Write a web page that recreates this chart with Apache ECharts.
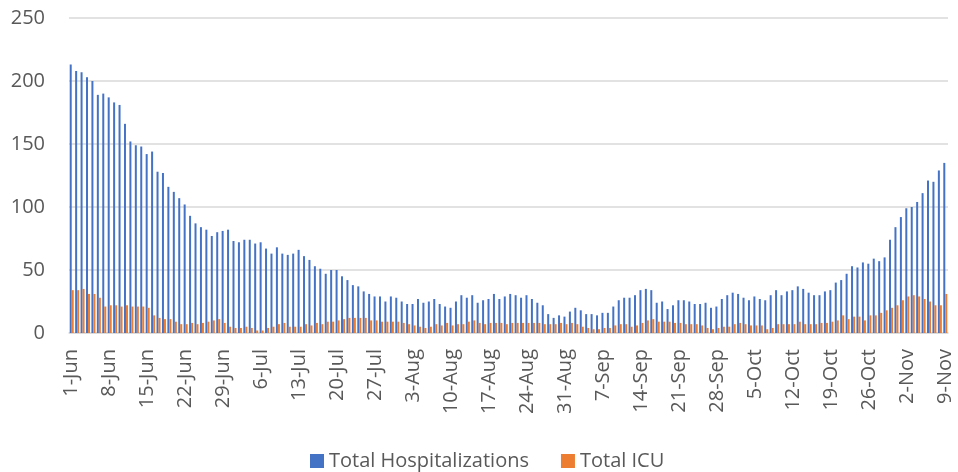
<!DOCTYPE html>
<html>
<head>
<meta charset="utf-8">
<script src="https://cdn.jsdelivr.net/npm/echarts@6/dist/echarts.min.js"></script>
<style>
html,body{margin:0;padding:0;background:#fff;}
#chart{width:958px;height:472px;}
</style>
</head>
<body>
<div id="chart"></div>
<script>
var monthNames = ['Jun','Jul','Aug','Sep','Oct','Nov'];
var monthDays = [30,31,31,30,31,9];

var hospitalizations = [
213,208,207,203,200,189,190,187,183,181,166,152,149,148,142,144,128,127,116,112,107,102,93,87,84,82,
77,80,81,82,73,72,74,74,71,72,67,63,68,63,62,63,66,61,58,53,51,47,50,50,45,42,
38,37,33,31,29,29,25,29,28,25,23,23,27,24,25,27,23,21,20,25,30,28,30,24,26,27,
31,27,29,31,30,28,30,27,24,22,15,12,14,13,17,20,18,15,15,14,16,16,21,26,
28,28,30,34,35,34,24,25,19,22,26,26,25,23,23,24,20,21,27,30,32,31,28,26,29,27,
26,30,34,30,33,34,37,35,32,30,30,33,34,40,42,47,53,52,56,55,59,57,60,74,84,92,99,100,104,111,121,120,129,135
];

var icu = [
34,34,35,31,31,28,21,22,22,21,22,21,21,21,20,14,12,11,11,9,7,7,8,7,8,9,
10,11,8,5,4,4,5,4,2,2,4,5,7,8,5,5,5,7,6,8,7,9,9,10,11,12,
12,12,12,10,10,9,9,9,9,8,7,6,5,4,5,7,6,8,6,7,7,9,10,8,7,8,
8,8,7,8,8,8,8,8,8,7,7,7,8,7,8,7,5,4,3,3,4,4,6,7,
7,5,6,8,10,11,9,9,9,8,8,7,7,7,6,4,3,4,5,5,7,8,7,6,6,6,
3,4,7,7,7,7,9,7,7,7,8,8,9,10,14,11,13,13,10,14,14,16,18,20,22,26,29,30,29,27,25,22,22,31
];

var categories = [];
for (var m = 0; m < monthNames.length; m++) {
  for (var d = 1; d <= monthDays[m]; d++) categories.push(d + '-' + monthNames[m]);
}

var textColor = '#595959';
var gridColor = '#d9d9d9';
var fontFam = 'Open Sans';
var chart = echarts.init(document.getElementById('chart'));
chart.setOption({
  animation: false,
  grid: {left: 69, right: 10, top: 18, bottom: 139, containLabel: false},
  legend: {
    top: 446, left: 305,
    itemWidth: 14, itemHeight: 14, itemGap: 32, icon: 'rect',
    textStyle: {color: textColor, fontSize: 20, fontFamily: fontFam},
    data: ['Total Hospitalizations','Total ICU']
  },
  xAxis: {
    type: 'category', data: categories,
    axisLine: {lineStyle: {color: gridColor, width: 1.5}},
    axisTick: {show: false},
    axisLabel: {rotate: 90, interval: 6, color: textColor, fontSize: 20, fontFamily: fontFam, margin: 16}
  },
  yAxis: {
    type: 'value', min: 0, max: 250, interval: 50,
    axisLine: {show: false}, axisTick: {show: false},
    splitLine: {lineStyle: {color: gridColor, width: 1.5}},
    axisLabel: {color: textColor, fontSize: 20, fontFamily: fontFam, margin: 24}
  },
  series: [
    {name: 'Total Hospitalizations', type: 'bar', data: hospitalizations, barWidth: 2, barGap: '0%', itemStyle: {color: '#4472C4'}},
    {name: 'Total ICU', type: 'bar', data: icu, barWidth: 2, barGap: '0%', itemStyle: {color: '#ED7D31'}}
  ]
});
</script>
</body>
</html>
